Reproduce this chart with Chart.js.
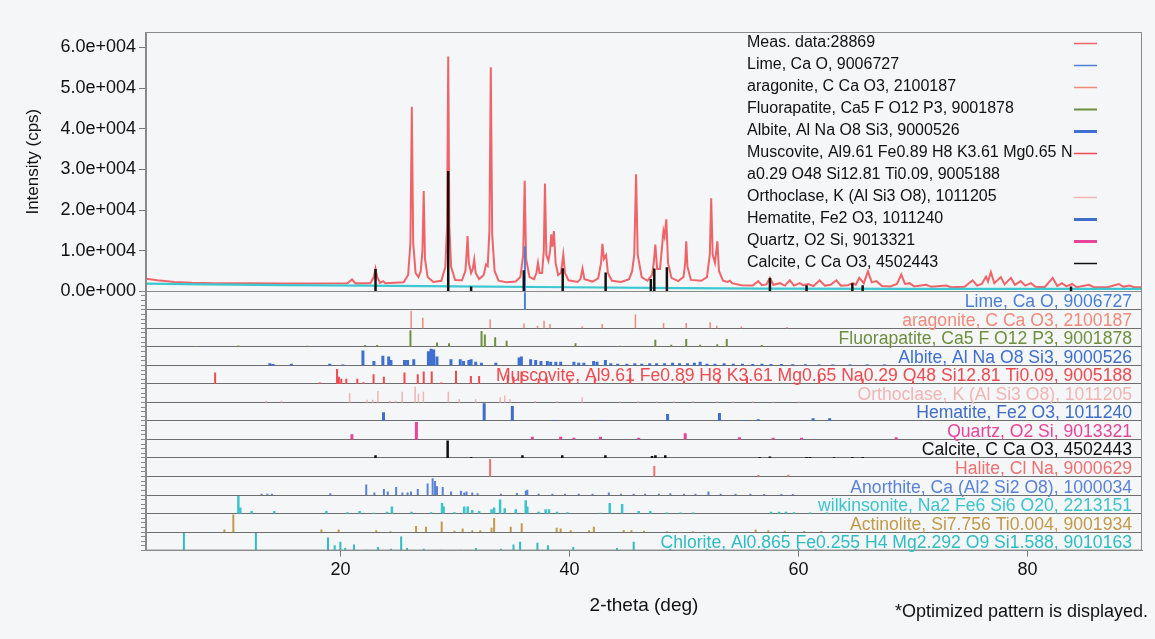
<!DOCTYPE html>
<html>
<head>
<meta charset="utf-8">
<script src="https://cdn.jsdelivr.net/npm/chart.js@4.4.0/dist/chart.umd.min.js"></script>
<style>
  html, body { margin: 0; padding: 0; background: #f4f6f7; }
  #wrap { width: 1155px; height: 639px; position: relative; }
</style>
</head>
<body>
<div id="wrap"><canvas id="chart"></canvas></div>
<script>
const FONT = '"Liberation Sans", Arial, sans-serif';

const measData = [
  [3.0, 3100], [4.0, 2700], [5.5, 2300], [7, 2100], [9, 2000], [12, 1950], [15, 1900], [18, 1900],
  [20.6, 1950], [21.0, 2900], [21.3, 1950], [22.6, 2000], [22.9, 3500], [23.05, 5600], [23.2, 3500],
  [23.45, 2100], [23.7, 2500], [23.9, 2000], [25.5, 2200], [25.9, 4000], [26.1, 12000], [26.22, 45400],
  [26.34, 12000], [26.55, 4500], [26.8, 3500], [27.0, 5000], [27.15, 10000], [27.26, 24700], [27.37, 8000],
  [27.6, 3500], [28.1, 2300], [28.8, 2600], [29.15, 6000], [29.3, 16000], [29.4, 57800], [29.5, 16000],
  [29.65, 6000], [30.0, 2800], [30.6, 2700], [30.9, 5000], [31.0, 9000], [31.09, 13600], [31.2, 7000],
  [31.4, 4500], [31.55, 5500], [31.67, 7800], [31.8, 4500], [32.1, 3000], [32.5, 4000], [32.7, 6600],
  [32.85, 6200], [33.0, 15000], [33.12, 55100], [33.24, 14000], [33.45, 5000], [33.8, 2600], [34.5, 2200],
  [35.3, 2400], [35.7, 3500], [35.95, 9000], [36.08, 27200], [36.2, 8000], [36.5, 3500], [36.9, 3000],
  [37.1, 4500], [37.24, 7000], [37.38, 4500], [37.6, 4500], [37.75, 10000], [37.85, 26500], [37.97, 9000],
  [38.15, 7500], [38.3, 10000], [38.4, 14000], [38.5, 11000], [38.63, 14800], [38.78, 7000], [39.0, 4000],
  [39.25, 4500], [39.45, 9000], [39.6, 4500], [39.9, 2700], [40.7, 2300], [40.95, 3000], [41.13, 5600],
  [41.3, 3000], [42.0, 2400], [42.5, 3200], [42.75, 7000], [42.87, 11700], [43.0, 8000], [43.19, 8900],
  [43.35, 4500], [43.7, 2600], [44.5, 2300], [45.2, 3000], [45.46, 4900], [45.65, 9000], [45.81, 28800],
  [45.95, 9000], [46.3, 3500], [46.8, 2600], [47.2, 4000], [47.35, 7000], [47.49, 11500], [47.65, 5500],
  [47.9, 5500], [48.2, 14800], [48.3, 13500], [48.45, 17700], [48.6, 7000], [48.9, 3300], [49.5, 2500],
  [49.95, 3500], [50.1, 7000], [50.19, 12300], [50.3, 6000], [50.6, 2800], [51.5, 2600], [52.0, 3500],
  [52.25, 9000], [52.37, 22900], [52.5, 9000], [52.7, 7000], [52.91, 12300], [53.05, 5000], [53.4, 2600],
  [53.8, 2300], [54.0, 2600], [54.2, 2000], [55.0, 1500], [56.0, 1400], [56.48, 2500], [56.8, 1500],
  [57.2, 1700], [57.5, 3300], [57.8, 1600], [58.37, 2000], [58.8, 1400], [59.24, 2700], [59.6, 1400],
  [60.1, 2000], [60.4, 1500], [60.84, 1800], [61.3, 1300], [61.85, 2700], [62.3, 1400], [62.8, 1600],
  [63.3, 2700], [63.7, 1400], [64.3, 1500], [64.75, 2000], [65.0, 1600], [65.3, 3300], [65.7, 2000],
  [66.06, 4900], [66.4, 2200], [66.8, 2500], [67.3, 1300], [68.0, 1200], [68.6, 1800], [68.97, 4100],
  [69.3, 1800], [69.7, 2000], [70.1, 1200], [71.15, 1600], [71.6, 1100], [72.9, 1400], [73.3, 1000],
  [74.5, 1100], [75.2, 2700], [75.6, 1400], [76.0, 1800], [76.37, 3600], [76.55, 2400], [76.8, 4700],
  [77.1, 2000], [77.67, 3500], [78.0, 1700], [78.55, 3300], [78.9, 1600], [79.4, 2500], [79.8, 1400],
  [80.3, 2000], [80.7, 1100], [81.5, 1000], [82.2, 3300], [82.6, 1300], [83.0, 2000], [83.4, 1200],
  [83.9, 1800], [84.3, 1000], [85.36, 1600], [85.8, 1000], [87.0, 1000], [87.97, 1800], [88.4, 1100],
  [88.9, 1400], [89.3, 1000], [90.0, 1000]
];
const bgData = [[3, 1900], [8, 1700], [15, 1500], [22, 1400], [30, 1200], [40, 1000], [50, 800], [57, 650], [70, 600], [90, 600]];

const yTickValues = [0, 10000, 20000, 30000, 40000, 50000, 60000];
const xTickValues = [20, 40, 60, 80];

// sticks shown in the intensity panel, [2theta, cps]
const calciteMain = [[23.05, 5500], [29.4, 29600], [31.4, 1200], [36.0, 5200], [39.4, 5700], [43.15, 4600],
  [47.1, 3000], [47.4, 5600], [48.5, 5900], [57.5, 3300], [60.7, 1500], [64.7, 2000], [65.6, 1500], [83.8, 1200]];
const limeMain = [[36.1, 11100]];

// reference patterns, [2theta, relative height 0..1]
const limeSticks = [[36.1, 1.0]];
const aragoniteSticks = [[26.16, 1.0], [27.18, 0.6], [33.06, 0.5], [36.02, 0.28], [37.2, 0.15], [37.77, 0.43],
  [38.29, 0.25], [41.1, 0.12], [42.85, 0.25], [45.75, 0.78], [48.21, 0.3], [50.19, 0.3], [52.28, 0.35],
  [52.86, 0.15], [55.0, 0.1], [59.0, 0.08]];
const fluorapatiteSticks = [[7.4, 0.05], [11.07, 0.08], [17.1, 0.06], [22.15, 0.1], [23.2, 0.1], [26.1, 0.95],
  [28.42, 0.25], [29.47, 0.2], [32.31, 0.9], [32.6, 0.7], [33.5, 0.55], [34.5, 0.35], [40.52, 0.2], [44.4, 0.06],
  [47.49, 0.4], [48.88, 0.12], [50.19, 0.45], [51.4, 0.12], [52.9, 0.15], [53.73, 0.45], [56.78, 0.1]];
const albiteSticks = [[13.82, 0.12], [14.1, 0.08], [15.7, 0.1], [19.05, 0.1], [20.2, 0.05], [21.95, 0.85],
  [22.91, 0.25], [23.69, 0.55], [24.2, 0.5], [24.4, 0.3], [25.58, 0.3], [25.85, 0.3], [26.39, 0.35], [27.67, 0.8],
  [27.9, 0.95], [28.13, 0.9], [28.42, 0.5], [29.64, 0.35], [30.45, 0.35], [30.74, 0.25], [31.2, 0.3], [31.4, 0.35],
  [31.8, 0.2], [32.3, 0.15], [33.56, 0.15], [35.59, 0.45], [35.79, 0.5], [36.6, 0.35], [37.04, 0.3], [37.5, 0.25],
  [38.06, 0.25], [38.35, 0.2], [38.8, 0.2], [39.22, 0.2], [40.38, 0.2], [40.8, 0.15], [41.25, 0.15], [42.1, 0.25],
  [42.4, 0.2], [43.13, 0.3], [43.6, 0.12], [44.2, 0.1], [45.0, 0.1], [45.7, 0.12], [46.3, 0.1], [47.0, 0.12],
  [47.6, 0.12], [48.3, 0.12], [49.0, 0.15], [49.6, 0.12], [50.3, 0.12], [50.9, 0.15], [51.4, 0.2], [52.0, 0.1],
  [52.7, 0.1], [53.5, 0.12], [54.3, 0.1], [55.1, 0.1], [56.0, 0.08], [56.8, 0.1], [57.6, 0.08], [58.5, 0.08],
  [59.5, 0.06], [60.6, 0.06], [61.8, 0.05], [63.0, 0.05], [64.5, 0.05], [66.0, 0.05], [67.5, 0.05]];
const muscoviteSticks = [[9.04, 0.65], [18.18, 0.08], [19.69, 0.85], [19.85, 0.4], [20.06, 0.3], [20.5, 0.3],
  [21.46, 0.3], [22.0, 0.1], [22.88, 0.55], [23.78, 0.4], [25.58, 0.65], [26.74, 0.55], [27.26, 0.7], [27.96, 0.7],
  [28.8, 0.08], [30.08, 0.75], [31.38, 0.45], [32.1, 0.45], [34.6, 0.5], [35.1, 0.4], [35.8, 0.7], [37.3, 0.3],
  [38.0, 0.4], [40.0, 0.3], [42.2, 0.35], [45.3, 0.55], [50.0, 0.2], [53.0, 0.3], [55.5, 0.4], [61.8, 0.5],
  [65.6, 0.3], [70.0, 0.2]];
const orthoclaseSticks = [[13.5, 0.1], [14.84, 0.1], [20.79, 0.55], [22.3, 0.15], [22.8, 0.15], [23.26, 0.65],
  [24.3, 0.1], [24.8, 0.1], [25.38, 0.6], [26.51, 0.9], [26.8, 0.5], [27.23, 0.6], [29.41, 0.6], [30.37, 0.2],
  [31.8, 0.2], [33.94, 0.3], [34.34, 0.4], [34.8, 0.2], [37.0, 0.08], [38.9, 0.06], [41.1, 0.3], [44.4, 0.06],
  [46.0, 0.06], [47.6, 0.06], [49.1, 0.06], [50.8, 0.08], [52.9, 0.06], [54.3, 0.06], [56.0, 0.06], [57.8, 0.05],
  [60.0, 0.05]];
const hematiteSticks = [[23.75, 0.5], [32.54, 1.0], [35.0, 0.85], [38.64, 0.05], [42.76, 0.05], [48.56, 0.4],
  [53.09, 0.45], [55.2, 0.05], [56.48, 0.1], [61.27, 0.15], [62.72, 0.15]];
const quartzSticks = [[20.99, 0.3], [26.62, 1.0], [36.75, 0.15], [39.22, 0.15], [40.38, 0.1], [42.7, 0.15],
  [46.04, 0.1], [50.1, 0.35], [54.83, 0.12], [57.79, 0.1], [60.26, 0.1], [68.53, 0.12]];
const calciteSticks = [[23.05, 0.15], [29.35, 1.0], [31.4, 0.05], [35.88, 0.15], [39.36, 0.15], [43.13, 0.15],
  [47.2, 0.12], [47.5, 0.15], [48.36, 0.15], [56.6, 0.05], [57.5, 0.08], [60.7, 0.05], [61.0, 0.05],
  [63.1, 0.04], [64.7, 0.06], [65.6, 0.05]];
const haliteSticks = [[33.06, 1.0], [47.4, 0.6], [56.5, 0.08], [59.1, 0.1]];
const anorthiteSticks = [[13.1, 0.08], [13.6, 0.08], [14.0, 0.08], [19.1, 0.1], [22.24, 0.6], [22.95, 0.15],
  [23.78, 0.35], [24.12, 0.2], [24.85, 0.45], [25.4, 0.15], [25.85, 0.15], [26.15, 0.2], [26.74, 0.35],
  [27.6, 0.65], [28.04, 0.95], [28.25, 0.8], [28.42, 0.5], [28.92, 0.45], [29.65, 0.2], [30.51, 0.25],
  [30.8, 0.15], [31.0, 0.2], [31.5, 0.15], [31.96, 0.1], [34.0, 0.08], [35.4, 0.12], [36.17, 0.25], [36.31, 0.3],
  [37.3, 0.08], [38.5, 0.08], [39.6, 0.08], [40.8, 0.08], [42.0, 0.08], [43.43, 0.15], [44.5, 0.08], [45.6, 0.08],
  [46.6, 0.08], [47.8, 0.08], [48.8, 0.1], [50.0, 0.08], [51.0, 0.08], [52.13, 0.2], [53.2, 0.08], [54.5, 0.08],
  [55.8, 0.08], [57.0, 0.06], [58.5, 0.06], [59.5, 0.06]];
const wilkinsoniteSticks = [[11.07, 1.0], [11.24, 0.35], [12.23, 0.15], [14.2, 0.15], [18.76, 0.15], [20.6, 0.08],
  [21.66, 0.15], [22.9, 0.05], [24.05, 0.1], [24.48, 0.4], [26.2, 0.1], [27.9, 0.08], [28.86, 0.6], [29.0, 0.4],
  [29.95, 0.08], [30.8, 0.4], [31.1, 0.4], [31.5, 0.2], [32.1, 0.15], [33.18, 0.25], [33.41, 0.35], [33.93, 0.8],
  [34.34, 0.3], [35.3, 0.25], [36.17, 0.75], [36.31, 0.4], [37.3, 0.1], [37.91, 0.25], [38.2, 0.25], [38.9, 0.1],
  [39.8, 0.08], [42.7, 0.05], [43.51, 0.6], [44.59, 0.55], [46.04, 0.15], [47.05, 0.15], [48.5, 0.06], [49.7, 0.06],
  [50.8, 0.06], [57.6, 0.1], [58.3, 0.1], [58.9, 0.1], [59.6, 0.08], [61.0, 0.06], [62.5, 0.06]];
const actinoliteSticks = [[9.85, 0.15], [10.63, 1.0], [18.32, 0.15], [19.83, 0.15], [23.11, 0.1], [24.35, 0.05],
  [26.59, 0.35], [27.46, 0.3], [28.83, 0.6], [29.95, 0.08], [30.66, 0.2], [31.5, 0.1], [32.2, 0.1], [33.18, 0.25],
  [33.41, 0.8], [34.86, 0.3], [35.82, 0.5], [38.87, 0.25], [39.22, 0.2], [40.1, 0.1], [41.7, 0.1], [42.12, 0.3],
  [44.73, 0.12], [45.4, 0.1], [46.5, 0.08], [48.5, 0.05], [50.8, 0.05], [56.25, 0.15], [57.36, 0.1], [58.8, 0.08],
  [60.5, 0.06], [62.0, 0.06]];
const chloriteSticks = [[6.31, 1.0], [12.6, 1.0], [18.9, 0.75], [19.48, 0.3], [19.98, 0.5], [20.4, 0.15],
  [21.17, 0.35], [22.25, 0.05], [23.26, 0.2], [24.4, 0.1], [25.29, 0.8], [25.8, 0.15], [27.26, 0.1], [28.8, 0.05],
  [30.5, 0.05], [31.82, 0.15], [34.0, 0.1], [35.1, 0.35], [35.68, 0.5], [37.19, 0.45], [38.11, 0.3], [40.32, 0.2],
  [44.15, 0.15], [45.6, 0.5], [48.8, 0.1], [52.0, 0.1], [57.0, 0.1], [60.0, 0.15], [61.5, 0.1], [65.0, 0.1]];

const phaseNames = [
  "Lime, Ca O, 9006727",
  "aragonite, C Ca O3, 2100187",
  "Fluorapatite, Ca5 F O12 P3, 9001878",
  "Albite, Al Na O8 Si3, 9000526",
  "Muscovite, Al9.61 Fe0.89 H8 K3.61 Mg0.65 Na0.29 O48 Si12.81 Ti0.09, 9005188",
  "Orthoclase, K (Al Si3 O8), 1011205",
  "Hematite, Fe2 O3, 1011240",
  "Quartz, O2 Si, 9013321",
  "Calcite, C Ca O3, 4502443",
  "Halite, Cl Na, 9000629",
  "Anorthite, Ca (Al2 Si2 O8), 1000034",
  "wilkinsonite, Na2 Fe6 Si6 O20, 2213151",
  "Actinolite, Si7.756 Ti0.004, 9001934",
  "Chlorite, Al0.865 Fe0.255 H4 Mg2.292 O9 Si1.588, 9010163"
];
const phaseColors = ["#4a80d8", "#f08a7a", "#6f8f3f", "#3f6fd0", "#ee4a50", "#f2b4b4", "#3f6dc8",
  "#e8449a", "#111111", "#ee7070", "#5a82d6", "#3cc4cc", "#c29a48", "#2fbcc4"];
const phaseWidths = [2, 1.5, 2, 3, 2, 1.5, 3, 3, 2.5, 2, 2, 2.5, 2, 2];
const phaseSticks = [limeSticks, aragoniteSticks, fluorapatiteSticks, albiteSticks, muscoviteSticks,
  orthoclaseSticks, hematiteSticks, quartzSticks, calciteSticks, haliteSticks, anorthiteSticks,
  wilkinsoniteSticks, actinoliteSticks, chloriteSticks];

const legendNames = ["Meas. data:28869", phaseNames[0], phaseNames[1], phaseNames[2], phaseNames[3],
  "Muscovite, Al9.61 Fe0.89 H8 K3.61 Mg0.65 N\na0.29 O48 Si12.81 Ti0.09, 9005188",
  phaseNames[5], phaseNames[6], phaseNames[7], phaseNames[8]];
const measColor = "#ef6468";
const bgColor = "#3cc8d0";

function sticksFrom(list, base) {
  const pts = [];
  list.forEach(([t, v]) => {
    pts.push({x: t, y: base}, {x: t, y: v}, {x: t, y: null});
  });
  return pts;
}

function rowSticks(list, row) {
  const pts = [];
  list.forEach(([t, h]) => {
    pts.push({x: t, y: row + 1}, {x: t, y: row + 1 - h * 0.95}, {x: t, y: null});
  });
  return pts;
}

const lineBase = {pointRadius: 0, borderCapStyle: 'butt', tension: 0, spanGaps: false};

const datasets = [
  {...lineBase, data: sticksFrom(calciteMain, 0), borderColor: '#111', borderWidth: 2.5, yAxisID: 'y'},
  {...lineBase, data: sticksFrom(limeMain, 0), borderColor: phaseColors[0], borderWidth: 2, yAxisID: 'y'},
  {...lineBase, data: bgData.map(p => ({x: p[0], y: p[1]})), borderColor: bgColor, borderWidth: 2.2, yAxisID: 'y'},
  {...lineBase, data: measData.map(p => ({x: p[0], y: p[1]})), borderColor: measColor, borderWidth: 2, yAxisID: 'y'}
];
phaseSticks.forEach((list, i) => {
  datasets.push({...lineBase, data: rowSticks(list, i), borderColor: phaseColors[i], borderWidth: phaseWidths[i], yAxisID: 'yp'});
});

const fmtExp = v => v.toExponential(1).replace(/e([+-])(\d+)/, (m, s, d) => 'e' + s + d.padStart(3, '0'));

const decor = {
  id: 'decor',
  afterDatasetsDraw(chart) {
    const {ctx, chartArea: a, scales} = chart;
    ctx.save();
    // frames
    ctx.strokeStyle = '#8a8a8a';
    ctx.lineWidth = 1;
    ctx.strokeRect(a.left + 0.5, a.top + 0.5, a.right - a.left - 1, a.bottom - a.top - 1);
    ctx.beginPath();
    ctx.moveTo(a.left, Math.round(scales.y.bottom) + 0.5);
    ctx.lineTo(a.right, Math.round(scales.y.bottom) + 0.5);
    ctx.stroke();

    // legend in the intensity panel
    const legColors = [measColor].concat(phaseColors.slice(0, 9));
    const legWidths = [1.5, 1.5, 1.5, 2, 3, 1.5, 1.5, 3, 3, 1.5];
    ctx.font = '16px ' + FONT;
    ctx.textBaseline = 'middle';
    ctx.textAlign = 'left';
    let ly = a.top + 11;
    legendNames.forEach((name, i) => {
      const lines = name.split('\n');
      ctx.fillStyle = '#111';
      lines.forEach((t, k) => ctx.fillText(t, a.right - 395, ly + k * 22));
      ctx.strokeStyle = legColors[i];
      ctx.lineWidth = legWidths[i];
      ctx.beginPath();
      ctx.moveTo(a.right - 68, ly + 0.5);
      ctx.lineTo(a.right - 45, ly + 0.5);
      ctx.stroke();
      ly += 22 * lines.length;
    });

    // phase names on the stick rows
    ctx.font = '17.6px ' + FONT;
    ctx.textAlign = 'right';
    ctx.textBaseline = 'alphabetic';
    phaseNames.forEach((name, i) => {
      ctx.fillStyle = phaseColors[i];
      ctx.fillText(name, a.right - 10, scales.yp.getPixelForValue(i + 1) - 2.5);
    });

    // footnote
    ctx.fillStyle = '#111';
    ctx.font = '18px ' + FONT;
    ctx.textBaseline = 'middle';
    ctx.fillText('*Optimized pattern is displayed.', 1148, 612);
    ctx.restore();
  }
};

Chart.defaults.font.family = FONT;
Chart.defaults.color = '#111';

new Chart(document.getElementById('chart'), {
  type: 'line',
  data: {datasets},
  options: {
    responsive: true,
    maintainAspectRatio: false,
    animation: false,
    events: [],
    layout: {padding: {left: 19, right: 13, top: 32, bottom: 18}},
    plugins: {legend: {display: false}, tooltip: {enabled: false}},
    scales: {
      x: {
        type: 'linear', min: 3, max: 90,
        afterBuildTicks: s => { s.ticks = xTickValues.map(v => ({value: v})); },
        ticks: {font: {size: 18}, color: '#111', padding: 3, maxRotation: 0},
        grid: {drawOnChartArea: false, tickLength: 6, color: '#777'},
        border: {color: '#888'},
        title: {display: true, text: '2-theta (deg)', font: {size: 19}, color: '#111', padding: {top: 10, bottom: 4}}
      },
      y: {
        type: 'linear', position: 'left', stack: 'xrd', stackWeight: 1, weight: 2,
        min: 0, max: 63800,
        afterBuildTicks: s => { s.ticks = yTickValues.map(v => ({value: v})); },
        ticks: {font: {size: 18}, color: '#111', padding: 3, autoSkip: false, callback: fmtExp},
        grid: {drawOnChartArea: false, tickLength: 7, color: '#777'},
        border: {color: '#888'},
        title: {display: true, text: 'Intensity (cps)', font: {size: 17}, color: '#111', padding: {top: 4, bottom: 14}}
      },
      yp: {
        type: 'linear', position: 'left', stack: 'xrd', stackWeight: 1, weight: 1,
        min: 0, max: 14, reverse: true,
        ticks: {display: false, stepSize: 0.25},
        grid: {
          color: c => Number.isInteger(c.tick.value) ? '#6e6e6e' : 'rgba(0,0,0,0)',
          tickColor: '#8a8a8a', tickLength: 5
        },
        border: {color: '#888'}
      }
    }
  },
  plugins: [decor]
});
</script>
</body>
</html>
